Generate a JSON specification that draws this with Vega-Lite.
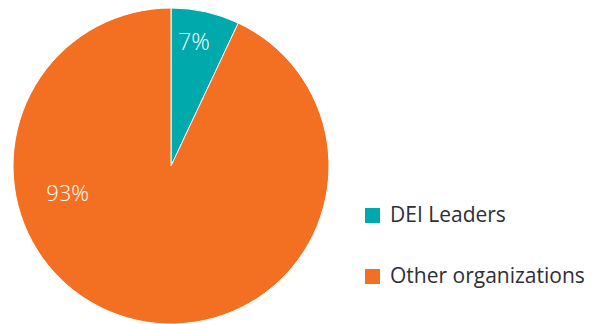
{
  "$schema": "https://vega.github.io/schema/vega-lite/v6.json",
  "width": 342,
  "height": 332,
  "autosize": {"type": "none"},
  "padding": {"left": 0, "top": 0, "right": 255, "bottom": 0},
  "background": "white",
  "config": {"view": {"stroke": null}},
  "data": {
    "values": [
      {"category": "DEI Leaders", "value": 0.07},
      {"category": "Other organizations", "value": 0.93}
    ]
  },
  "encoding": {
    "color": {
      "field": "category",
      "type": "nominal",
      "sort": ["DEI Leaders", "Other organizations"],
      "scale": {"domain": ["DEI Leaders", "Other organizations"], "range": ["#00a9ab", "#f37022"]},
      "legend": {
        "title": null,
        "orient": "none",
        "legendX": 362,
        "legendY": 205,
        "symbolType": "square",
        "symbolSize": 225,
        "symbolStrokeWidth": 0,
        "symbolOpacity": 1,
        "labelFont": "Open Sans",
        "labelFontSize": 21,
        "labelColor": "#2e2e38",
        "labelOffset": 7,
        "labelLimit": 0,
        "rowPadding": 39
      }
    }
  },
  "layer": [
    {
      "mark": {"type": "arc", "radius": 158, "stroke": "white", "strokeWidth": 1},
      "encoding": {
        "theta": {"field": "value", "type": "quantitative", "stack": true}
      }
    },
    {
      "transform": [{"filter": "datum.category === 'DEI Leaders'"}],
      "mark": {"type": "text", "theta": 0.185, "radius": 125, "font": "Open Sans", "fontWeight": 300, "fontSize": 23, "fill": "white", "align": "center", "baseline": "middle"},
      "encoding": {
        "text": {"field": "value", "type": "quantitative", "format": ".0%"},
        "color": {"value": "white"}
      }
    },
    {
      "transform": [{"filter": "datum.category === 'Other organizations'"}],
      "mark": {"type": "text", "theta": 4.452, "radius": 107, "font": "Open Sans", "fontWeight": 300, "fontSize": 22, "fill": "white", "align": "center", "baseline": "middle"},
      "encoding": {
        "text": {"field": "value", "type": "quantitative", "format": ".0%"},
        "color": {"value": "white"}
      }
    }
  ]
}
